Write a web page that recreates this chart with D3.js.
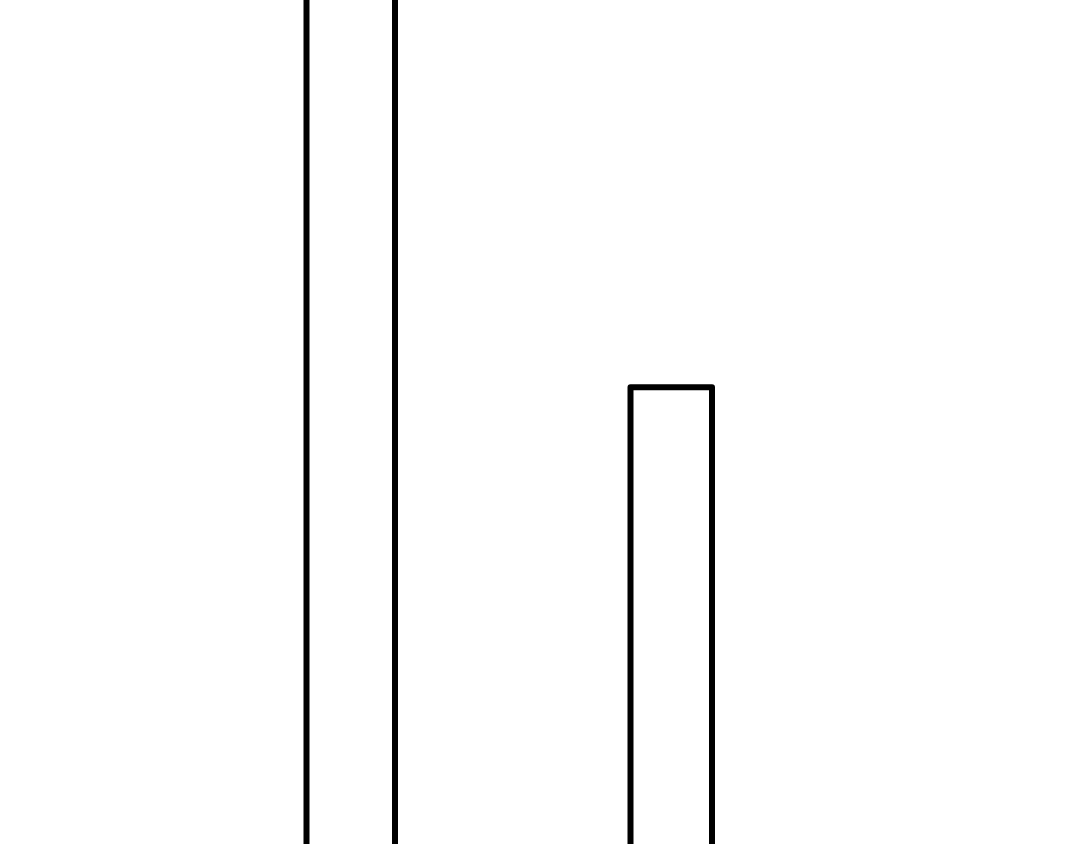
<!DOCTYPE html>
<html>
<head>
<meta charset="utf-8">
<script src="https://cdn.jsdelivr.net/npm/d3@7"></script>
<style>
  html, body { margin: 0; padding: 0; background: #fff; }
  svg { display: block; }
  .bar { fill: none; stroke: #000; stroke-width: 6; stroke-linejoin: round; }
</style>
</head>
<body>
<svg id="chart"></svg>
<script>
  // bins (left/right edges) and heights
  const categories = ['A', 'B'];
  const binStart = [30.65, 63.05];
  const binEnd = [39.5, 71.2];
  const values = [120, 56];

  const width = 1080;
  const height = 844;

  const svg = d3.select('#chart')
    .attr('width', width)
    .attr('height', height);

  const x = d3.scaleLinear().domain([0, 108]).range([0, width]);
  const y = d3.scaleLinear().domain([0, 100]).range([880, 0]);

  const data = categories.map((c, i) => ({
    name: c, x0: binStart[i], x1: binEnd[i], v: values[i]
  }));

  svg.selectAll('.bar')
    .data(data)
    .enter().append('rect')
    .attr('class', 'bar')
    .attr('x', (d) => x(d.x0))
    .attr('width', (d) => x(d.x1) - x(d.x0))
    .attr('y', (d) => y(d.v))
    .attr('height', (d) => y(0) - y(d.v));
</script>
</body>
</html>
